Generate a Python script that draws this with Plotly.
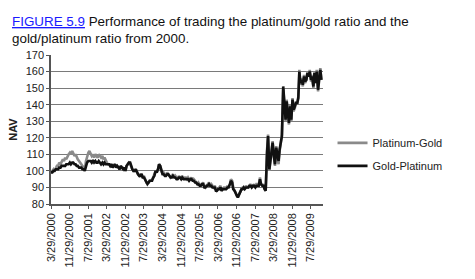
import pandas as pd
import plotly.graph_objects as go

# ---- data (semi-monthly NAV) ----
start_value = 100
platinum_gold = [
    # 2000 Apr..Dec
    99, 100, 101, 100, 102, 103, 103, 105, 104, 106, 107, 106, 108, 107, 109, 110, 111, 110,
    # 2001
    112, 111, 109, 110, 108, 107, 106, 105, 104, 103, 102, 101, 106, 109, 111, 112, 110, 109,
    110, 108, 110, 109, 108, 110,
    # 2002
    109, 108, 109, 107, 108, 106, 105, 104, 104, 103, 104, 102, 103, 104, 102, 103, 102, 101,
    103, 102, 101, 102, 100, 103,
    # 2003
    104, 105, 104, 102, 101, 100, 100, 101, 99, 98, 97, 98, 98, 96, 97, 95, 93, 93,
    93, 94, 94, 95, 96, 98,
    # 2004
    100, 99, 101, 104, 103, 100, 98, 99, 98, 97, 99, 98, 97, 96, 97, 98, 96, 97,
    96, 95, 97, 96, 96, 97,
    # 2005
    95, 96, 96, 95, 96, 95, 95, 96, 94, 95, 94, 93, 92, 93, 92, 91, 92, 93,
    91, 90, 91, 92, 93, 91,
    # 2006
    92, 91, 90, 91, 89, 88, 89, 90, 91, 88, 89, 90, 90, 89, 91, 90, 92, 95,
    94, 90, 88, 87, 85, 84,
    # 2007
    86, 88, 89, 90, 90, 89, 91, 90, 90, 91, 92, 90, 91, 92, 90, 92, 92, 91,
    96, 92, 91, 92, 89, 88,
    # 2008
    112, 122, 100, 105, 112, 118, 108, 103, 115, 110, 104, 112, 116, 122, 150, 140, 130, 143,
    135, 128, 140, 130, 144, 136,
    # 2009
    138, 142, 140, 145, 161, 152, 156, 151, 158, 153, 155, 160, 157, 161, 154, 158, 150, 160,
    153, 161, 148, 158, 162, 155,
]
gold_platinum = [
    # 2000 Apr..Dec
    99, 99, 100, 100, 101, 101, 101, 102, 102, 103, 103, 103, 103, 104, 104, 104, 105, 104,
    # 2001
    105, 105, 104, 104, 103, 103, 102, 102, 102, 101, 101, 100, 103, 105, 106, 106, 106, 105,
    106, 105, 106, 105, 105, 106,
    # 2002
    105, 104, 105, 104, 105, 104, 104, 104, 104, 103, 104, 102, 103, 104, 102, 103, 102, 101,
    103, 102, 101, 102, 100, 103,
    # 2003
    104, 105, 105, 102, 101, 100, 100, 101, 99, 98, 97, 97, 98, 96, 96, 95, 93, 92,
    93, 94, 94, 94, 96, 97,
    # 2004
    100, 99, 101, 104, 103, 100, 98, 98, 97, 97, 98, 98, 97, 96, 96, 97, 96, 96,
    95, 95, 96, 96, 95, 96,
    # 2005
    95, 95, 95, 95, 95, 94, 95, 95, 94, 94, 93, 93, 92, 92, 91, 91, 92, 92,
    90, 90, 91, 91, 92, 91,
    # 2006
    91, 90, 90, 90, 88, 88, 89, 89, 90, 88, 89, 89, 89, 89, 90, 90, 92, 94,
    93, 89, 88, 86, 85, 84,
    # 2007
    86, 88, 89, 89, 90, 89, 90, 90, 90, 91, 91, 90, 91, 91, 90, 91, 91, 91,
    95, 92, 91, 91, 89, 88,
    # 2008
    110, 121, 101, 106, 113, 117, 109, 104, 114, 111, 106, 113, 117, 121, 151, 141, 131, 142,
    134, 129, 139, 131, 143, 137,
    # 2009
    139, 141, 141, 144, 160, 153, 155, 152, 157, 154, 155, 159, 157, 160, 155, 157, 151, 159,
    153, 160, 149, 157, 161, 155,
]
tick_labels = ["3/29/2000", "11/29/2000", "7/29/2001", "3/29/2002", "11/29/2002",
               "7/29/2003", "3/29/2004", "11/29/2004", "7/29/2005", "3/29/2006",
               "11/29/2006", "7/29/2007", "3/29/2008", "11/29/2008", "7/29/2009"]
series_names = ["Platinum-Gold", "Gold-Platinum"]

# ---- build ----
dates = [pd.Timestamp("2000-03-29")] + list(pd.date_range("2000-04-01", "2009-12-15", freq="SMS"))
pg = [start_value] + platinum_gold
gp = [start_value] + gold_platinum
n = min(len(dates), len(pg), len(gp))
dates, pg, gp = dates[:n], pg[:n], gp[:n]
tick_vals = [pd.to_datetime(t, format="%m/%d/%Y") for t in tick_labels]

fig = go.Figure()
fig.add_trace(go.Scatter(x=dates, y=pg, mode="lines", name=series_names[0],
                         legendgroup="a", line=dict(color="#8a8a8a", width=2.6)))
fig.add_trace(go.Scatter(x=dates, y=gp, mode="lines", name=series_names[1],
                         legendgroup="b", line=dict(color="#111111", width=2.6)))

fig.update_layout(
    width=475, height=279,
    margin=dict(l=42, r=152, t=55, b=74),
    paper_bgcolor="white", plot_bgcolor="white",
    font=dict(family="Liberation Sans, Arial, sans-serif", color="#222"),
    showlegend=True,
    legend=dict(x=1.035, y=0.333, xanchor="left", yanchor="middle",
                font=dict(size=11, color="#222"), tracegroupgap=4,
                bgcolor="rgba(0,0,0,0)"),
    hovermode=False,
)
fig.update_xaxes(
    range=[pd.Timestamp("2000-03-29"), pd.Timestamp("2010-01-05")],
    tickmode="array", tickvals=tick_vals, ticktext=tick_labels,
    tickangle=-90, tickfont=dict(size=11, color="#222"),
    showgrid=False, showline=True, linecolor="#555", linewidth=1.5,
    ticks="outside", ticklen=3, tickcolor="#555", zeroline=False,
)
fig.update_yaxes(
    range=[80, 170], dtick=10, tick0=80,
    tickfont=dict(size=11, color="#222"),
    showgrid=True, gridcolor="#7a7a7a", gridwidth=1.3,
    showline=True, linecolor="#555", linewidth=1.5,
    ticks="outside", ticklen=3, tickcolor="#555", zeroline=False,
    title=dict(text="<b>NAV</b>", font=dict(size=11, color="#222"), standoff=6),
)
fig.add_annotation(
    xref="paper", yref="paper", x=-0.1495, y=1.0, xanchor="left", yanchor="bottom",
    yshift=7, align="left", showarrow=False,
    text='<span style="color:#1a1aff"><u>FIGURE 5.9</u></span> Performance of trading the platinum/gold ratio and the<br>gold/platinum ratio from 2000.',
    font=dict(size=13.4, color="#111", family="Liberation Sans, Arial, sans-serif"),
)
fig.write_html("out.html")
